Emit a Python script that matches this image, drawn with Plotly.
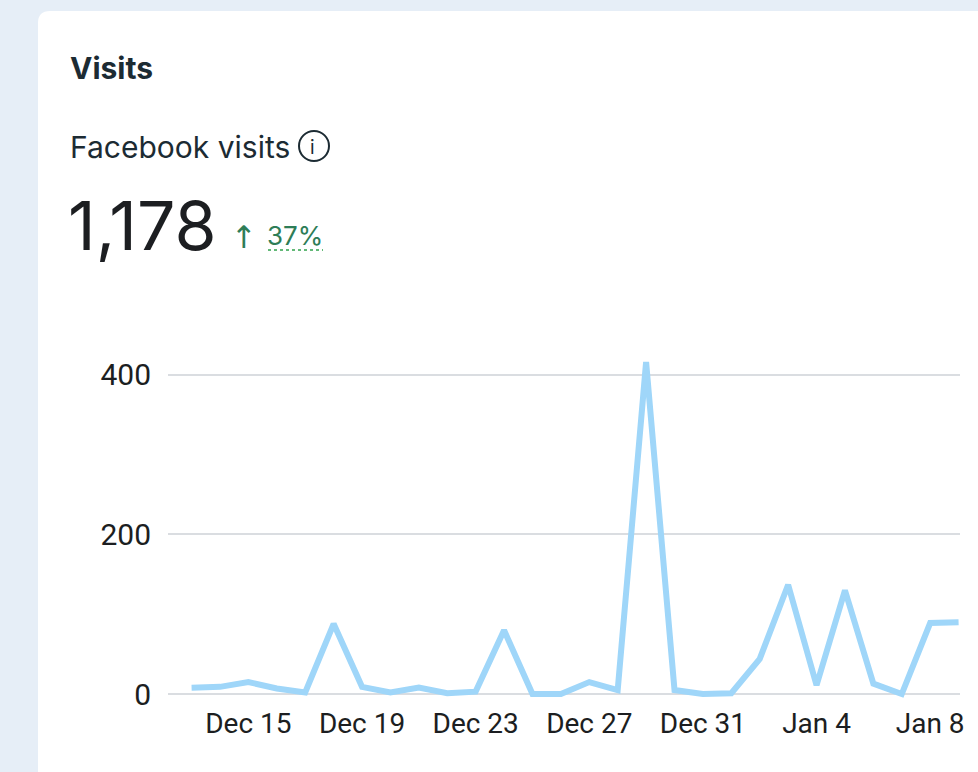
import plotly.graph_objects as go
import pandas as pd

# daily Facebook visits, Dec 13 -> Jan 9
dates = pd.date_range("2023-12-13", "2024-01-09", freq="D")
visits = [8, 9, 15, 7, 2, 88, 9, 2, 8, 1, 3, 80, 0, 0, 15, 5, 416, 5, 0, 1,
          44, 137, 11, 130, 13, 0, 89, 90]

tick_dates = ["2023-12-15", "2023-12-19", "2023-12-23", "2023-12-27",
              "2023-12-31", "2024-01-04", "2024-01-08"]
tick_labels = ["Dec 15", "Dec 19", "Dec 23", "Dec 27", "Dec 31", "Jan 4", "Jan 8"]
y_ticks = [0, 200, 400]

card_title = "Visits"
metric_name = "Facebook visits"
metric_total = "1,178"
metric_change = "37%"

W, H = 978, 772
ML, MR, MT, MB = 168, 18, 335, 70
PW, PH = W - ML - MR, H - MT - MB


# pixel -> paper helpers
def px(x):
    return (x - ML) / PW


def py(y):
    return (H - MB - y) / PH


fig = go.Figure()

fig.add_trace(go.Scatter(
    x=dates, y=visits, mode="lines",
    line=dict(color="#9fd6f9", width=6, shape="linear"),
    hoverinfo="x+y", showlegend=False
))

# white card with rounded corners
r = 12
x0, y0, x1, y1 = 38, 11, 1010, 800
card = (f"M {px(x0)},{py(y0 + r)} Q {px(x0)},{py(y0)} {px(x0 + r)},{py(y0)} "
        f"L {px(x1)},{py(y0)} L {px(x1)},{py(y1)} L {px(x0)},{py(y1)} Z")

shapes = [
    dict(type="path", path=card, xref="paper", yref="paper",
         fillcolor="white", line=dict(width=0), layer="below"),
    # info icon circle
    dict(type="circle", xref="paper", yref="paper",
         x0=px(299), x1=px(329), y0=py(161), y1=py(131),
         line=dict(color="#1c2b33", width=2), fillcolor="white"),
    # dotted underline under the change
    dict(type="line", xref="paper", yref="paper",
         x0=px(268), x1=px(323), y0=py(250), y1=py(250),
         line=dict(color="#31a24c", width=1.5, dash="dot")),
]

head_font = "Inter, Roboto, sans-serif"
annotations = [
    dict(text=f"<b>{card_title}</b>", x=px(68), y=py(68),
         font=dict(size=30, color="#1c2b33", family=head_font)),
    dict(text=metric_name, x=px(68), y=py(147),
         font=dict(size=30, color="#1c2b33", family=head_font)),
    dict(text="i", x=px(307.5), y=py(147),
         font=dict(size=19, color="#1c2b33", family=head_font)),
    dict(text=metric_total, x=px(66), y=py(225),
         font=dict(size=68, color="#1c1e21", family=head_font)),
    dict(text="↑", x=px(229), y=py(236),
         font=dict(size=31, color="#2e7d57", family="Noto Sans, DejaVu Sans")),
    dict(text=metric_change, x=px(265), y=py(236),
         font=dict(size=26, color="#2e7d57", family=head_font)),
]
for a in annotations:
    a.update(xref="paper", yref="paper", xanchor="left", yanchor="middle",
             showarrow=False)

day = pd.Timedelta(days=1)
fig.update_layout(
    width=W, height=H,
    margin=dict(l=ML, r=MR, t=MT, b=MB),
    paper_bgcolor="#e6eef7",
    plot_bgcolor="rgba(0,0,0,0)",
    shapes=shapes,
    annotations=annotations,
    xaxis=dict(
        range=[dates[0] - 0.83 * day, dates[-1] + 0.05 * day],
        tickvals=tick_dates, ticktext=tick_labels,
        showgrid=False, zeroline=False, showline=False,
        ticks="", tickfont=dict(size=28, color="#1c1e21", family="Roboto"),
        ticklabelstandoff=2,
    ),
    yaxis=dict(
        range=[-10, 450],
        tickvals=y_ticks,
        showgrid=True, gridcolor="#dadde1", gridwidth=2,
        zeroline=False, showline=False, ticks="",
        tickfont=dict(size=30, color="#1c1e21", family="Roboto"),
        ticklabelstandoff=16,
    ),
)

# drop the default page margin so the figure fills the window
fig.write_html("out.html", config={"displayModeBar": False},
               post_script="document.body.style.margin='0';")
